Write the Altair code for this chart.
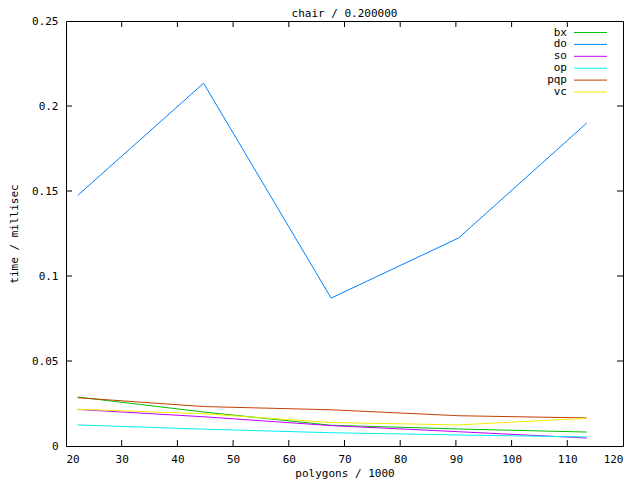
import altair as alt
import pandas as pd

# ---- data ----
polygons = [22.1, 44.7, 67.6, 90.5, 113.5]
series_names = ["bx", "do", "so", "op", "pqp", "vc"]
bx = [0.0288, 0.0200, 0.0122, 0.0100, 0.0082]
do = [0.1474, 0.2134, 0.0870, 0.1224, 0.1900]
so = [0.0215, 0.0172, 0.0120, 0.0084, 0.0047]
op = [0.0124, 0.0099, 0.0078, 0.0065, 0.0053]
pqp = [0.0284, 0.0232, 0.0213, 0.0178, 0.0165]
vc = [0.0216, 0.0190, 0.0138, 0.0124, 0.0163]
series_values = [bx, do, so, op, pqp, vc]
colors = ["#00c000", "#0080ff", "#c000ff", "#00eeee", "#c04000", "#eeee00"]
x_ticks = [20, 30, 40, 50, 60, 70, 80, 90, 100, 110, 120]
y_ticks = [0, 0.05, 0.1, 0.15, 0.2, 0.25]
title_text = "chair / 0.200000"

W, H = 557, 425
FONT = "DejaVu Sans Mono"
TICK = 6

xs = alt.Scale(domain=[20, 120], nice=False, zero=False)
ys = alt.Scale(domain=[0, 0.25], nice=False, zero=False)
x_axis = alt.Axis(values=x_ticks, format="d", labelPadding=7,
                  title="polygons / 1000", titleY=27, titleBaseline="middle")
y_axis = alt.Axis(values=y_ticks, format="~g", labelPadding=8,
                  title="time / millisec", titleX=-52, titleY=H / 2,
                  titleAngle=270, titleAlign="center", titleBaseline="middle")

layers = []

# series lines, drawn in order so later series sit on top
for name, vals, col in zip(series_names, series_values, colors):
    df = pd.DataFrame({"polygons": polygons, "time": vals, "series": name})
    layers.append(
        alt.Chart(df).mark_line(color=col, strokeWidth=1, clip=True).encode(
            x=alt.X("polygons:Q", scale=xs, axis=x_axis),
            y=alt.Y("time:Q", scale=ys, axis=y_axis),
        )
    )

# inward tick marks on all four sides (gnuplot style)
xt = pd.DataFrame({"polygons": x_ticks[1:-1]})
yt = pd.DataFrame({"time": y_ticks[1:-1]})
layers.append(alt.Chart(xt).mark_rule(color="black", strokeWidth=1).encode(
    x=alt.X("polygons:Q", scale=xs, axis=x_axis), y=alt.value(H), y2=alt.value(H - TICK)))
layers.append(alt.Chart(xt).mark_rule(color="black", strokeWidth=1).encode(
    x=alt.X("polygons:Q", scale=xs, axis=x_axis), y=alt.value(0), y2=alt.value(TICK)))
layers.append(alt.Chart(yt).mark_rule(color="black", strokeWidth=1).encode(
    y=alt.Y("time:Q", scale=ys, axis=y_axis), x=alt.value(0), x2=alt.value(TICK)))
layers.append(alt.Chart(yt).mark_rule(color="black", strokeWidth=1).encode(
    y=alt.Y("time:Q", scale=ys, axis=y_axis), x=alt.value(W - TICK), x2=alt.value(W)))

# legend inside top-right: label then line sample
for i, (name, col) in enumerate(zip(series_names, colors)):
    ly = 11.5 + 11.9 * i
    layers.append(alt.Chart(pd.DataFrame({"label": [name]})).mark_text(
        align="right", baseline="middle", font=FONT, fontSize=11, color="black"
    ).encode(x=alt.value(501), y=alt.value(ly), text="label:N"))
    layers.append(alt.Chart(pd.DataFrame({"label": [name]})).mark_rule(
        color=col, strokeWidth=1
    ).encode(x=alt.value(508), x2=alt.value(541), y=alt.value(ly)))

# chart title as a text mark above the frame
layers.append(alt.Chart(pd.DataFrame({"label": [title_text]})).mark_text(
    align="center", baseline="middle", font=FONT, fontSize=11, color="black"
).encode(x=alt.value(W / 2), y=alt.value(-7), text="label:N"))

chart = alt.layer(*layers).properties(
    width=W,
    height=H,
    autosize="none",
    padding={"left": 58, "top": 13, "right": 9, "bottom": 34},
).configure_view(
    stroke="black", strokeWidth=1
).configure_axis(
    grid=False, domain=False, ticks=False,
    labelFont=FONT, labelFontSize=11, labelColor="black",
    titleFont=FONT, titleFontSize=11, titleFontWeight="normal", titleColor="black",
)

chart.save("out.html", embed_options={"renderer": "svg", "actions": False})
